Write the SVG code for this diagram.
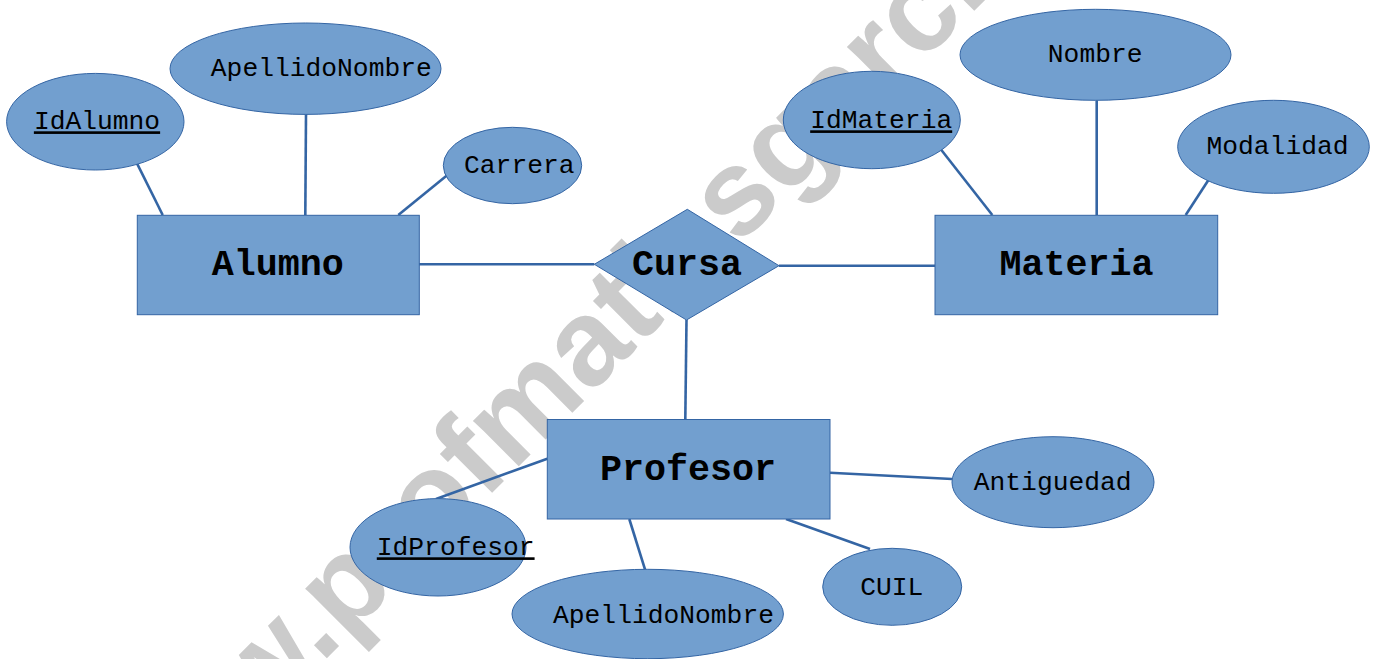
<svg xmlns="http://www.w3.org/2000/svg" width="1373" height="659" viewBox="0 0 1373 659">
<style>
.ent{fill:#729fcf;stroke:#3465a4;stroke-width:1}
.att{fill:#729fcf;stroke:#3465a4;stroke-width:1}
.lbl{font-family:"Liberation Mono","DejaVu Sans Mono",monospace;font-size:26.3px;fill:#000;text-anchor:middle}
.key{text-decoration:underline}
.title{font-family:"Liberation Mono","DejaVu Sans Mono",monospace;font-size:36.7px;font-weight:bold;fill:#000;text-anchor:middle}
.wm{font-family:"Liberation Sans",Arial,sans-serif;font-size:122px;font-weight:bold;fill:#cbcbcb}
#connectors line{stroke:#3465a4;stroke-width:2.6;fill:none}
</style>
<rect x="0" y="0" width="1373" height="659" fill="#ffffff"/>
<text class="wm" transform="translate(123,862) rotate(-45)">www.profmatiasgarcia.com.ar</text>
<g id="connectors">
<line x1="135" y1="159.3" x2="162.7" y2="215"/>
<line x1="306" y1="114" x2="305.3" y2="215"/>
<line x1="449.3" y1="173.5" x2="398.3" y2="215"/>
<line x1="419" y1="264.3" x2="594.3" y2="264.3"/>
<line x1="779" y1="265.7" x2="935.5" y2="265.7"/>
<line x1="940" y1="148.3" x2="992.3" y2="215"/>
<line x1="1096.7" y1="100.3" x2="1096.7" y2="215"/>
<line x1="1211.7" y1="175" x2="1185.7" y2="215"/>
<line x1="686.5" y1="320" x2="685.3" y2="419.5"/>
<line x1="547.3" y1="458.7" x2="436" y2="499"/>
<line x1="629.3" y1="519" x2="645" y2="569.3"/>
<line x1="786" y1="519" x2="870" y2="549"/>
<line x1="830" y1="472.7" x2="952" y2="479"/>
</g>
<g id="alumno">
<rect class="ent" x="137.3" y="215.3" width="282" height="99.4"/>
<text class="title" x="277.8" y="275">Alumno</text>
</g>
<g id="materia">
<rect class="ent" x="935" y="215.3" width="282.7" height="99.4"/>
<text class="title" x="1076.5" y="275">Materia</text>
</g>
<g id="profesor">
<rect class="ent" x="547.3" y="419.5" width="282.7" height="99.5"/>
<text class="title" x="688" y="480">Profesor</text>
</g>
<g id="cursa">
<polygon class="ent" points="594.3,264.3 687.3,209.3 779,265.7 686.5,320"/>
<text class="title" x="687" y="275">Cursa</text>
</g>
<g id="idalumno">
<ellipse class="att" cx="95.3" cy="121.7" rx="88.7" ry="48.3"/>
<text class="lbl key" x="97" y="129.3">IdAlumno</text>
</g>
<g id="apellidonombre-alumno">
<ellipse class="att" cx="305.5" cy="68.7" rx="135.5" ry="45.7"/>
<text class="lbl" x="321.3" y="76">ApellidoNombre</text>
</g>
<g id="carrera">
<ellipse class="att" cx="512.5" cy="165.5" rx="69.2" ry="38.2"/>
<text class="lbl" x="519.3" y="172.7">Carrera</text>
</g>
<g id="idmateria">
<ellipse class="att" cx="871.8" cy="120" rx="88.5" ry="48.7"/>
<text class="lbl key" x="881.2" y="128.3">IdMateria</text>
</g>
<g id="nombre">
<ellipse class="att" cx="1095.5" cy="54.8" rx="135.5" ry="45.5"/>
<text class="lbl" x="1095.2" y="61.7">Nombre</text>
</g>
<g id="modalidad">
<ellipse class="att" cx="1273.5" cy="146.8" rx="95.8" ry="46.5"/>
<text class="lbl" x="1277.5" y="154">Modalidad</text>
</g>
<g id="idprofesor">
<ellipse class="att" cx="438" cy="547.3" rx="88" ry="48.7"/>
<text class="lbl key" x="455.7" y="555.3">IdProfesor</text>
</g>
<g id="apellidonombre-profesor">
<ellipse class="att" cx="647.7" cy="614" rx="135.7" ry="44.7"/>
<text class="lbl" x="663.5" y="622.7">ApellidoNombre</text>
</g>
<g id="cuil">
<ellipse class="att" cx="892.2" cy="586.8" rx="69.5" ry="38.5"/>
<text class="lbl" x="891.8" y="595">CUIL</text>
</g>
<g id="antiguedad">
<ellipse class="att" cx="1053" cy="482.2" rx="101" ry="45.5"/>
<text class="lbl" x="1052.7" y="490">Antiguedad</text>
</g>
</svg>
